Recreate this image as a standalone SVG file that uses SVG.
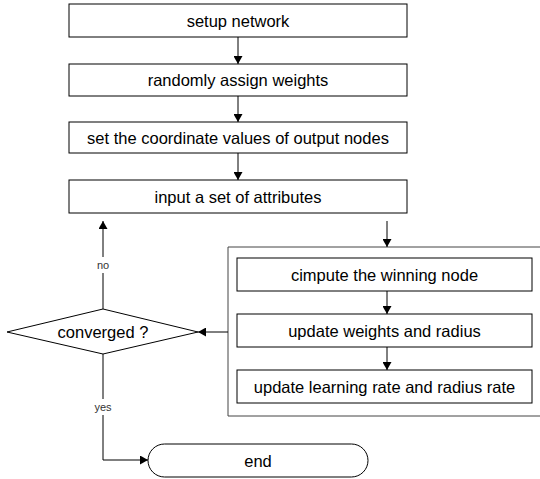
<svg xmlns="http://www.w3.org/2000/svg" width="540" height="479" viewBox="0 0 540 479">
<style>
.box{fill:#fff;stroke:#000;stroke-width:1}
.t{font-family:"Liberation Sans",Arial,sans-serif;font-size:16.5px;fill:#000;text-anchor:middle;dominant-baseline:central}
.lbl{font-family:"Liberation Sans",Arial,sans-serif;font-size:11px;fill:#333;text-anchor:middle;dominant-baseline:central}
.c{fill:none;stroke:#000;stroke-width:1}
</style>
<defs>
<marker id="ah" markerWidth="9" markerHeight="9" refX="8" refY="4.5" orient="auto" markerUnits="userSpaceOnUse">
<path d="M0,0 L8,4.5 L0,9 Z" fill="#000"/>
</marker>
</defs>
<rect width="540" height="479" fill="#fff"/>
<g id="container">
<path d="M541,247 H228 V416 H541" fill="none" stroke="#444" stroke-width="1"/>
</g>
<g id="n1"><rect class="box" x="69" y="4" width="338" height="33"/><text class="t" x="238" y="20.5">setup network</text></g>
<g id="n2"><rect class="box" x="69" y="64" width="338" height="32"/><text class="t" x="238" y="80">randomly assign weights</text></g>
<g id="n3"><rect class="box" x="69" y="122" width="338" height="31"/><text class="t" x="238" y="137.5">set the coordinate values of output nodes</text></g>
<g id="n4"><rect class="box" x="69" y="180" width="338" height="33"/><text class="t" x="238" y="196.5">input a set of attributes</text></g>
<g id="n5"><rect class="box" x="237" y="258" width="295" height="33"/><text class="t" x="384.5" y="274.5">cimpute the winning node</text></g>
<g id="n6"><rect class="box" x="237" y="314" width="295" height="33"/><text class="t" x="384.5" y="330.5">update weights and radius</text></g>
<g id="n7"><rect class="box" x="237" y="370" width="295" height="33"/><text class="t" x="384.5" y="386.5">update learning rate and radius rate</text></g>
<g id="decision"><polygon class="box" points="7,332 103,309 198,332 103,354"/><text class="t" x="103" y="331.5">converged ?</text></g>
<g id="end"><rect class="box" x="148" y="444" width="220" height="33" rx="16.5" ry="16.5"/><text class="t" x="258" y="460.5">end</text></g>
<g id="connectors">
<line class="c" x1="238" y1="37" x2="238" y2="64" marker-end="url(#ah)"/>
<line class="c" x1="238" y1="96" x2="238" y2="122" marker-end="url(#ah)"/>
<line class="c" x1="238" y1="153" x2="238" y2="180" marker-end="url(#ah)"/>
<line class="c" x1="387" y1="221" x2="387" y2="247" marker-end="url(#ah)"/>
<line class="c" x1="387" y1="291" x2="387" y2="314" marker-end="url(#ah)"/>
<line class="c" x1="387" y1="347" x2="387" y2="370" marker-end="url(#ah)"/>
<line class="c" x1="228" y1="332" x2="198" y2="332" marker-end="url(#ah)"/>
<path class="c" d="M103,309 V221" marker-end="url(#ah)"/>
<path class="c" d="M103,354 V460 H148" marker-end="url(#ah)"/>
<rect x="92" y="257" width="22" height="16" fill="#fff"/>
<text class="lbl" x="103" y="265">no</text>
<rect x="90" y="399" width="26" height="16" fill="#fff"/>
<text class="lbl" x="103" y="407">yes</text>
</g>
</svg>
